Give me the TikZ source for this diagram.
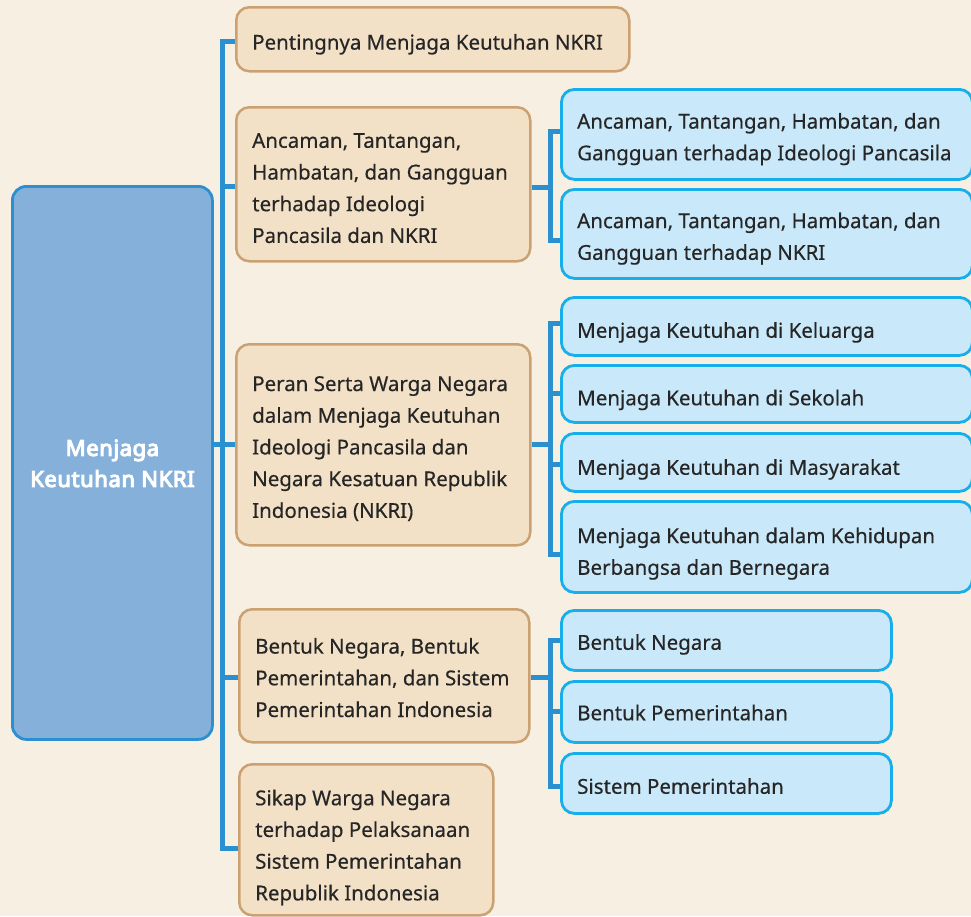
\documentclass[tikz,border=0pt]{standalone}
\usepackage{fontspec}
\setmainfont{Noto Sans}[FakeBold=0.4]
\newfontfamily\headfont{Noto Sans}[FakeBold=5, LetterSpace=2.7]
\usetikzlibrary{calc}
\definecolor{bgc}{HTML}{F7F0E2}
\definecolor{beigefill}{HTML}{F2E1C7}
\definecolor{beigeline}{HTML}{CCA172}
\definecolor{bluefill}{HTML}{C9E8F9}
\definecolor{blueline}{HTML}{18AEEA}
\definecolor{mainfill}{HTML}{84B0DA}
\definecolor{mainline}{HTML}{2B8FD0}
\definecolor{connc}{HTML}{2A90CF}
\definecolor{txt}{HTML}{262626}
\tikzset{
  boxbase/.style={rounded corners=13pt, anchor=north west, inner sep=0pt},
  lvlone/.style={boxbase, fill=beigefill, draw=beigeline, line width=2.5pt},
  lvltwo/.style={boxbase, fill=bluefill, draw=blueline, line width=2.8pt},
  label/.style={anchor=west, align=left, inner sep=0pt, text=txt,
    font=\fontsize{20.5}{31.7}\selectfont,
    execute at begin node={\rule{0pt}{22.2pt}},
    execute at end node={\rule[-9.5pt]{0pt}{0pt}}},
  conn/.style={draw=connc, line width=5pt, line join=miter},
}
\newcommand{\boxtext}[3]{\node[label] (#1t) at ([xshift=17pt,yshift=-#2]#1.west) {#3};}
\begin{document}
\begin{tikzpicture}[x=1pt,y=-1pt]
\useasboundingbox[fill=bgc] (0,0) rectangle (971,916);

% main box
\node[rounded corners=14pt, fill=mainfill, draw=mainline, line width=2.8pt, anchor=north west,
  minimum width=200pt, minimum height=553pt, inner sep=0pt] (main) at (11,185) {};
\node[anchor=center, align=center, inner sep=0pt, text=white,
  font=\headfont\fontsize{22}{31}\selectfont,
  execute at begin node={\rule{0pt}{21.7pt}},
  execute at end node={\rule[-9.3pt]{0pt}{0pt}}] (maint) at ([yshift=-5pt]main.center) {Menjaga\\Keutuhan NKRI};

% level one
\node[lvlone, minimum width=393pt, minimum height=64pt] (p1) at (235,6) {};
\boxtext{p1}{4pt}{Pentingnya Menjaga Keutuhan NKRI}
\node[lvlone, minimum width=294pt, minimum height=154pt] (p2) at (235,106) {};
\boxtext{p2}{8.5pt}{Ancaman, Tantangan,\\Hambatan, dan Gangguan\\terhadap Ideologi\\Pancasila dan NKRI}
\node[lvlone, minimum width=294pt, minimum height=201pt] (p3) at (235,343) {};
\boxtext{p3}{7pt}{Peran Serta Warga Negara\\dalam Menjaga Keutuhan\\Ideologi Pancasila dan\\Negara Kesatuan Republik\\Indonesia (NKRI)}
\node[lvlone, minimum width=290pt, minimum height=133pt] (p4) at (238,608) {};
\boxtext{p4}{6.5pt}{Bentuk Negara, Bentuk\\Pemerintahan, dan Sistem\\Pemerintahan Indonesia}
\node[lvlone, minimum width=254pt, minimum height=151pt] (p5) at (238,763) {};
\boxtext{p5}{10pt}{Sikap Warga Negara\\terhadap Pelaksanaan\\Sistem Pemerintahan\\Republik Indonesia}

% level two
\node[lvltwo, minimum width=411pt, minimum height=90pt] (a1) at (560,88) {};
\boxtext{a1}{7pt}{Ancaman, Tantangan, Hambatan, dan\\Gangguan terhadap Ideologi Pancasila}
\node[lvltwo, minimum width=411pt, minimum height=89pt] (a2) at (560,188) {};
\boxtext{a2}{7pt}{Ancaman, Tantangan, Hambatan, dan\\Gangguan terhadap NKRI}

\node[lvltwo, minimum width=411pt, minimum height=58pt] (b1) at (560,296) {};
\boxtext{b1}{5pt}{Menjaga Keutuhan di Keluarga}
\node[lvltwo, minimum width=411pt, minimum height=57pt] (b2) at (560,364) {};
\boxtext{b2}{5pt}{Menjaga Keutuhan di Sekolah}
\node[lvltwo, minimum width=411pt, minimum height=58pt] (b3) at (560,432) {};
\boxtext{b3}{6pt}{Menjaga Keutuhan di Masyarakat}
\node[lvltwo, minimum width=411pt, minimum height=91pt] (b4) at (560,500) {};
\boxtext{b4}{9pt}{Menjaga Keutuhan dalam Kehidupan\\Berbangsa dan Bernegara}

\node[lvltwo, minimum width=330pt, minimum height=60pt] (c1) at (560,609) {};
\boxtext{c1}{3pt}{Bentuk Negara}
\node[lvltwo, minimum width=330pt, minimum height=61pt] (c2) at (560,680) {};
\boxtext{c2}{2pt}{Bentuk Pemerintahan}
\node[lvltwo, minimum width=330pt, minimum height=60pt] (c3) at (560,752) {};
\boxtext{c3}{4pt}{Sistem Pemerintahan}

% trunk
\coordinate (trunk) at (222,0);
\coordinate (brk) at (550,0);
\draw[conn] ([yshift=-2pt]p1.west) -- ([yshift=-2pt]p1.west -| trunk) -- ([yshift=-9pt]p5.west -| trunk) -- ([yshift=-9pt]p5.west);
\draw[conn] ([yshift=-2pt]p2.west -| trunk) -- ([yshift=-2pt]p2.west);
\draw[conn] (p3.west -| main.east) -- (p3.west);
\draw[conn] ([yshift=-2pt]p4.west -| trunk) -- ([yshift=-2pt]p4.west);

% group A
\draw[conn] ([yshift=-3pt]p2.east) -- ([yshift=-3pt]p2.east -| brk);
\draw[conn] ([yshift=3pt]a1.west) -- ([yshift=3pt]a1.west -| brk) -- ([yshift=-7pt]a2.west -| brk) -- ([yshift=-7pt]a2.west);

% group B
\draw[conn] (p3.east) -- (p3.east -| brk);
\draw[conn] ([yshift=3pt]b1.west) -- ([yshift=3pt]b1.west -| brk) -- ([yshift=-8pt]b4.west -| brk) -- ([yshift=-8pt]b4.west);
\draw[conn] (b2.west -| brk) -- (b2.west);
\draw[conn] ([yshift=-2pt]b3.west -| brk) -- ([yshift=-2pt]b3.west);

% group C
\draw[conn] ([yshift=-2pt]p4.east) -- ([yshift=-2pt]p4.east -| brk);
\draw[conn] (c1.west) -- (c1.west -| brk) -- ([yshift=-3pt]c3.west -| brk) -- ([yshift=-3pt]c3.west);
\draw[conn] (c2.west -| brk) -- (c2.west);
\end{tikzpicture}
\end{document}
